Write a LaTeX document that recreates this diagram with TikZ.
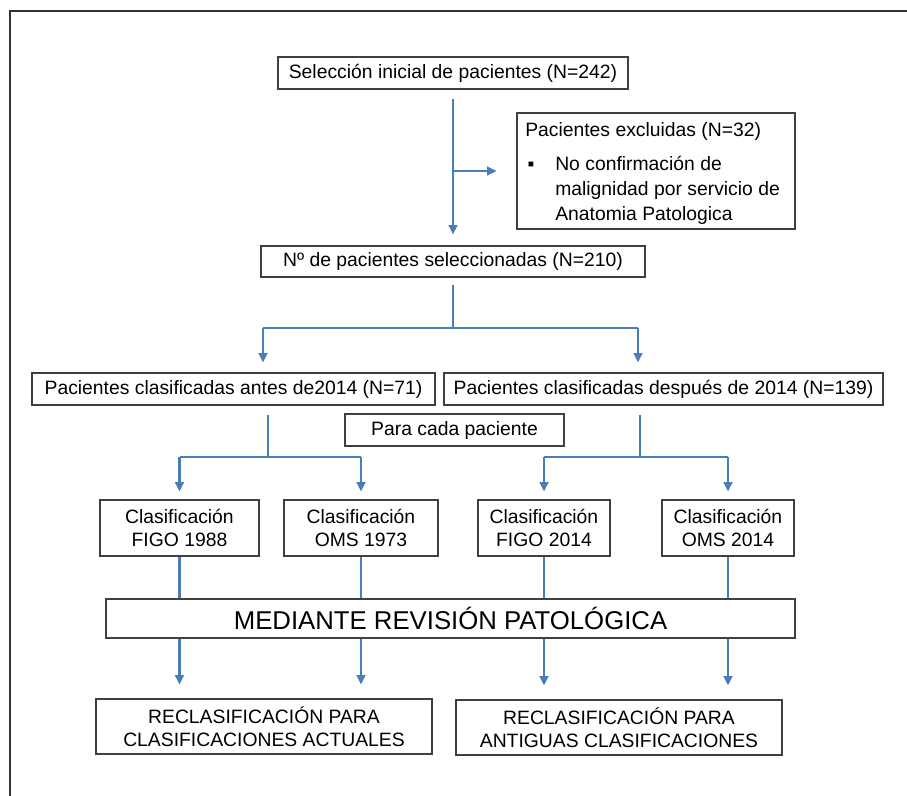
\documentclass[tikz,border=0pt]{standalone}
\usepackage{fontspec}
\setmainfont{Liberation Sans}
\usetikzlibrary{calc,arrows.meta,positioning}
\definecolor{flowblue}{HTML}{4A7EBB}

\begin{document}
\begin{tikzpicture}[x=0.75pt,y=-0.75pt,
    txt/.style={inner sep=0pt,font=\fontsize{14.5}{17}\selectfont},
    box/.style={txt,draw=black!75,line width=0.8pt,align=center},
    link/.style={draw=flowblue,line width=1.9pt},
    arr/.style={link,-{Triangle[length=7pt,width=6.5pt]}}]
  \useasboundingbox (0,0) rectangle (907,796);
  \draw[black!80,line width=1.3pt] (10,796) -- (10,11) -- (907,11);

  % first selection and exclusions
  \node[box,minimum width=262.5pt,minimum height=24pt] (sel) at (453,73) {Selección inicial de pacientes (N=242)};
  \node[box,minimum width=208.5pt,minimum height=87pt] (excl) at (656,171) {};
  \node[txt,anchor=base west] (exclT) at (525,136) {Pacientes excluidas (N=32)};
  \node[txt,anchor=base] (bul) at (531,170) {▪};
  \node[txt,anchor=base west] (excl1) at (555,170) {No confirmación de};
  \node[txt,anchor=base west] (excl2) at (555,195) {malignidad por servicio de};
  \node[txt,anchor=base west] (excl3) at (555,220) {Anatomia Patologica};
  \node[box,minimum width=288pt,minimum height=23.25pt] (sel2) at (453,261.5) {Nº de pacientes seleccionadas (N=210)};

  % split by date
  \node[box,minimum width=302.25pt,minimum height=24pt] (ante) at (233.5,389) {Pacientes clasificadas antes de2014 (N=71)};
  \node[box,minimum width=329.25pt,minimum height=24pt] (desp) at (663.5,389) {Pacientes clasificadas después de 2014 (N=139)};
  \node[box,minimum width=164.25pt,minimum height=24pt] (para) at (454.5,430) {Para cada paciente};

  % classifications
  \node[box,minimum width=119.25pt,minimum height=42pt] (clasA) at (179.5,528) {Clasificación\\FIGO 1988};
  \node[box,minimum width=115.5pt,minimum height=42pt] (clasB) at (361,528) {Clasificación\\OMS 1973};
  \node[box,minimum width=99pt,minimum height=42pt] (clasC) at (544,528) {Clasificación\\FIGO 2014};
  \node[box,minimum width=99pt,minimum height=42pt] (clasD) at (728,528) {Clasificación\\OMS 2014};
  \node[box,minimum width=516.75pt,minimum height=29.25pt,font=\fontsize{19.3}{23}\selectfont] (med) at (450.5,618.5) {MEDIANTE REVISIÓN PATOLÓGICA};
  \node[box,minimum width=252pt,minimum height=41.25pt] (reclA) at (264,726.5) {RECLASIFICACIÓN PARA\\CLASIFICACIONES ACTUALES};
  \node[box,minimum width=244.5pt,minimum height=41.25pt] (reclB) at (619,727.5) {RECLASIFICACIÓN PARA\\ANTIGUAS CLASIFICACIONES};

  \coordinate (j1) at (453,328);
  \coordinate (j1a) at (263,328);
  \coordinate (j1b) at (638,328);
  \coordinate (j2a) at (268,457);
  \coordinate (j2b) at (640,457);

  \draw[arr,shorten <=6.75pt,shorten >=8.25pt] (sel) -- (sel2);
  \draw[arr,shorten >=15pt] (sel |- excl) -- (excl);
  \draw[link,shorten <=5.25pt] (sel2) -- (j1);
  \draw[link] (j1a) -- (j1b);
  \draw[arr,shorten >=7.5pt] (j1a) -- (j1a |- ante.north);
  \draw[arr,shorten >=7.5pt] (j1b) -- (j1b |- desp.north);

  \draw[link,shorten <=6.75pt] (j2a |- ante.south) -- (j2a);
  \draw[link,shorten <=6.75pt] (j2b |- desp.south) -- (j2b);
  \draw[link] (clasA |- j2a) -- (clasB |- j2a);
  \draw[link] (clasC |- j2b) -- (clasD |- j2b);
  \foreach \c in {clasA,clasB,clasC,clasD}
    \draw[arr,shorten >=6pt] (\c |- j2a) -- (\c.north);

  \foreach \c/\r in {clasA/reclA,clasB/reclA,clasC/reclB,clasD/reclB} {
    \draw[link] (\c) -- (\c |- med.north);
    \draw[arr,shorten >=10.5pt] (\c |- med.south) -- (\c |- \r.north);
  }
\end{tikzpicture}
\end{document}
